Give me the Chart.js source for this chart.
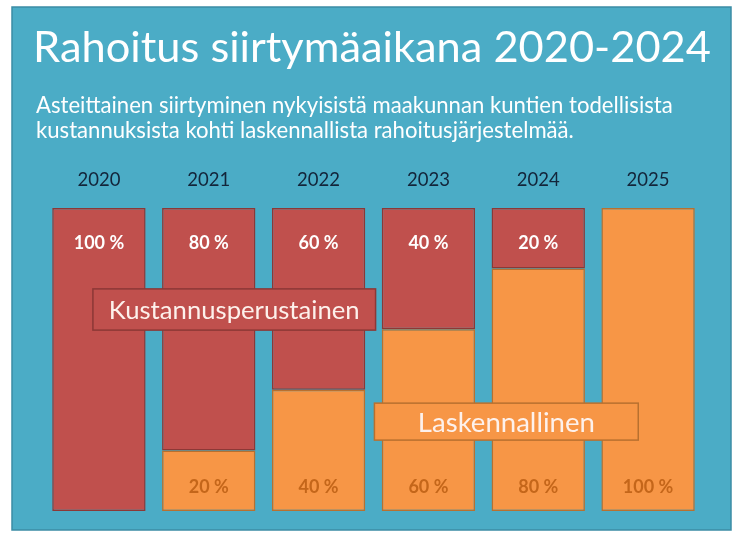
<!DOCTYPE html>
<html>
<head>
<meta charset="utf-8">
<script src="https://cdn.jsdelivr.net/npm/chart.js@4"></script>
<style>
  body { margin: 0; background: #fff; }
  canvas { display: block; }
</style>
</head>
<body>
<canvas id="graph" width="744" height="533"></canvas>
<script>
const canva = document.getElementById('graph');

// data
const years = ['2020', '2021', '2022', '2023', '2024', '2025'];
const kustannusperustainen = [100, 80, 60, 40, 20, 0];
const laskennallinen = [0, 20, 40, 60, 80, 100];

const titleText = 'Rahoitus siirtymäaikana 2020-2024';
const subtitleLines = [
  'Asteittainen siirtyminen nykyisistä maakunnan kuntien todellisista',
  'kustannuksista kohti laskennallista rahoitusjärjestelmää.'
];

const FONT = 'Lato, "Open Sans", sans-serif';
const RED = '#C0504D';
const ORANGE = '#F79646';

// pick font size so text fills a given width
function fitSize(ctx, text, weight, width) {
  ctx.font = weight + ' 100px ' + FONT;
  return 100 * width / ctx.measureText(text).width;
}

function drawBox(ctx, x1, y1, x2, y2, fill, stroke, text, textW) {
  ctx.fillStyle = fill;
  ctx.fillRect(x1, y1, x2 - x1, y2 - y1);
  ctx.strokeStyle = stroke;
  ctx.lineWidth = 1.5;
  ctx.strokeRect(x1, y1, x2 - x1, y2 - y1);
  const size = fitSize(ctx, text, 'normal', textW);
  ctx.font = 'normal ' + size + 'px ' + FONT;
  ctx.fillStyle = '#fdf1ec';
  ctx.textAlign = 'center';
  ctx.textBaseline = 'middle';
  ctx.fillText(text, (x1 + x2) / 2, (y1 + y2) / 2 + 1);
}

const slidePlugin = {
  id: 'slide',
  beforeDraw(chart) {
    const ctx = chart.ctx;
    ctx.save();
    ctx.fillStyle = '#ffffff';
    ctx.fillRect(0, 0, chart.width, chart.height);
    ctx.fillStyle = '#4BACC6';
    ctx.fillRect(12, 7, 719, 523);
    ctx.strokeStyle = '#3B8CA5';
    ctx.lineWidth = 1.5;
    ctx.strokeRect(12, 7, 719, 523);

    ctx.fillStyle = '#ffffff';
    ctx.textBaseline = 'alphabetic';
    ctx.textAlign = 'center';
    let size = fitSize(ctx, titleText, 'normal', 678);
    ctx.font = 'normal ' + size + 'px ' + FONT;
    ctx.fillText(titleText, 372, 62);

    ctx.textAlign = 'left';
    size = fitSize(ctx, subtitleLines[0], 'normal', 637);
    ctx.font = 'normal ' + size + 'px ' + FONT;
    ctx.fillText(subtitleLines[0], 36, 113);
    ctx.fillText(subtitleLines[1], 36, 138);

    const x = chart.scales.x;
    ctx.textAlign = 'center';
    ctx.fillStyle = '#13253a';
    ctx.font = 'normal 18.5px ' + FONT;
    years.forEach((y, i) => ctx.fillText(y, x.getPixelForValue(i), 186));
    ctx.restore();
  },
  afterDatasetsDraw(chart) {
    const ctx = chart.ctx;
    const x = chart.scales.x, y = chart.scales.y;
    ctx.save();
    ctx.textAlign = 'center';
    ctx.textBaseline = 'alphabetic';
    ctx.font = 'bold 18px ' + FONT;

    // percent labels
    chart.getDatasetMeta(0).data.forEach((bar, i) => {
      if (!laskennallinen[i]) return;
      ctx.fillStyle = '#C4661A';
      ctx.fillText(laskennallinen[i] + ' %', bar.x, bar.base - 18);
    });
    chart.getDatasetMeta(1).data.forEach((bar, i) => {
      if (!kustannusperustainen[i]) return;
      ctx.fillStyle = '#ffffff';
      ctx.fillText(kustannusperustainen[i] + ' %', bar.x, y.getPixelForValue(100) + 41);
    });

    // series name boxes
    drawBox(ctx, x.getPixelForValue(0) - 6, y.getPixelForValue(73.3),
      x.getPixelForValue(2) + 57, y.getPixelForValue(59.7),
      RED, '#8C3836', 'Kustannusperustainen', 251);
    drawBox(ctx, x.getPixelForValue(3) - 54, y.getPixelForValue(35.6),
      x.getPixelForValue(4) + 100, y.getPixelForValue(23.4),
      ORANGE, '#B8702F', 'Laskennallinen', 177);
    ctx.restore();
  }
};

const data = {
  labels: years,
  datasets: [{
    label: 'Laskennallinen',
    data: laskennallinen,
    backgroundColor: ORANGE,
    borderColor: '#B8702F',
    borderWidth: (c) => c.raw ? 1.5 : 0,
    borderSkipped: false,
    stack: 'a'
  }, {
    label: 'Kustannusperustainen',
    data: kustannusperustainen,
    backgroundColor: RED,
    borderColor: '#8C3836',
    borderWidth: (c) => c.raw ? 1.5 : 0,
    borderSkipped: false,
    stack: 'a'
  }]
};

const config = {
  type: 'bar',
  data,
  options: {
    responsive: false,
    animation: false,
    layout: { padding: { left: 44, right: 41, top: 208, bottom: 22 } },
    datasets: { bar: { categoryPercentage: 1, barPercentage: 0.85 } },
    scales: {
      x: { display: false, stacked: true },
      y: { display: false, stacked: true, min: 0, max: 100 }
    },
    plugins: {
      legend: { display: false },
      tooltip: { enabled: false }
    }
  },
  plugins: [slidePlugin]
};

var chart = new Chart(canva, config);
</script>
</body>
</html>
